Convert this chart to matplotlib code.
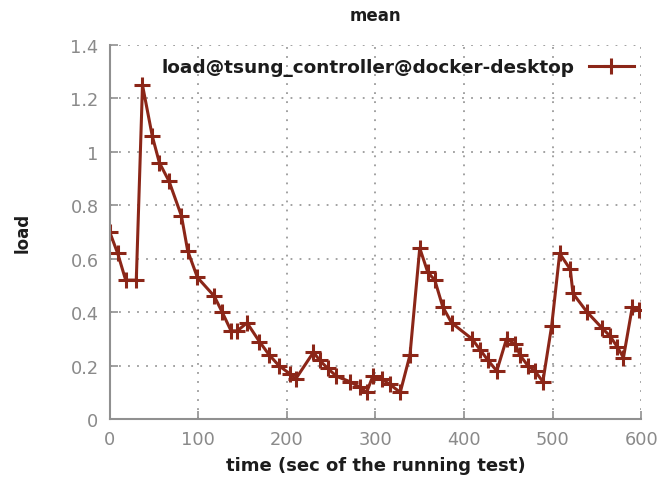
import matplotlib
matplotlib.use("Agg")
import matplotlib.pyplot as plt

# sampled load average over the test run
time_s = [0, 9, 18, 30, 37, 48, 56, 67, 81, 88, 99, 118, 127, 137, 144, 155,
          169, 180, 191, 203, 210, 230, 237, 246, 256, 271, 282, 290, 297,
          307, 316, 328, 339, 350, 359, 367, 376, 386, 409, 418, 427, 437,
          448, 458, 463, 472, 480, 489, 499, 508, 520, 523, 539, 556, 565,
          573, 580, 590, 597]
load = [0.70, 0.62, 0.52, 0.52, 1.25, 1.06, 0.96, 0.89, 0.76, 0.63, 0.53,
        0.46, 0.40, 0.33, 0.33, 0.36, 0.29, 0.24, 0.20, 0.17, 0.15, 0.25,
        0.22, 0.19, 0.16, 0.14, 0.12, 0.10, 0.16, 0.15, 0.13, 0.10, 0.24,
        0.64, 0.55, 0.52, 0.42, 0.36, 0.30, 0.26, 0.22, 0.18, 0.30, 0.28,
        0.24, 0.20, 0.18, 0.14, 0.35, 0.62, 0.56, 0.47, 0.40, 0.34, 0.31,
        0.27, 0.23, 0.42, 0.41]

x_ticks = [0, 100, 200, 300, 400, 500, 600]
y_ticks = [0, 0.2, 0.4, 0.6, 0.8, 1.0, 1.2, 1.4]
y_tick_labels = ["0", "0.2", "0.4", "0.6", "0.8", "1", "1.2", "1.4"]

LINE = "#8b2618"
AXIS = "#909090"
TEXT = "#1c1c1c"

fig = plt.figure(figsize=(6.61, 4.85), dpi=100)
ax = fig.add_axes([0.166, 0.134, 0.804, 0.771])

ax.plot(time_s, load, color=LINE, linewidth=2.2, marker="+", markersize=11,
        markeredgewidth=2.2, label="load@tsung_controller@docker-desktop")

ax.set_xlim(0, 600)
ax.set_ylim(0, 1.4)
ax.set_xticks(x_ticks)
ax.set_yticks(y_ticks)
ax.set_yticklabels(y_tick_labels)

for side in ("top", "right"):
    ax.spines[side].set_visible(False)
for side in ("left", "bottom"):
    ax.spines[side].set_color(AXIS)
    ax.spines[side].set_linewidth(1.5)

ax.tick_params(direction="in", length=6, width=1.2, color=AXIS,
               labelcolor="#8a8a8a", labelsize=12.8, pad=8)
ax.grid(True, color="#9a9a9a", linestyle=(0, (1, 4)), linewidth=1.3)

ax.set_title("mean", fontsize=12, fontweight="bold", color=TEXT, pad=18)
ax.set_xlabel("time (sec of the running test)", fontsize=13, fontweight="bold",
              color=TEXT, labelpad=6)
ax.set_ylabel("load", fontsize=12, fontweight="bold", color=TEXT, labelpad=28)

ax.legend(loc="upper right", frameon=False, markerfirst=False,
          prop={"size": 13.3, "weight": "bold"},
          handlelength=2.4, borderaxespad=0.3, bbox_to_anchor=(1.01, 1.0))
for text in ax.get_legend().get_texts():
    text.set_color(TEXT)

fig.savefig("out.png", dpi=100)
